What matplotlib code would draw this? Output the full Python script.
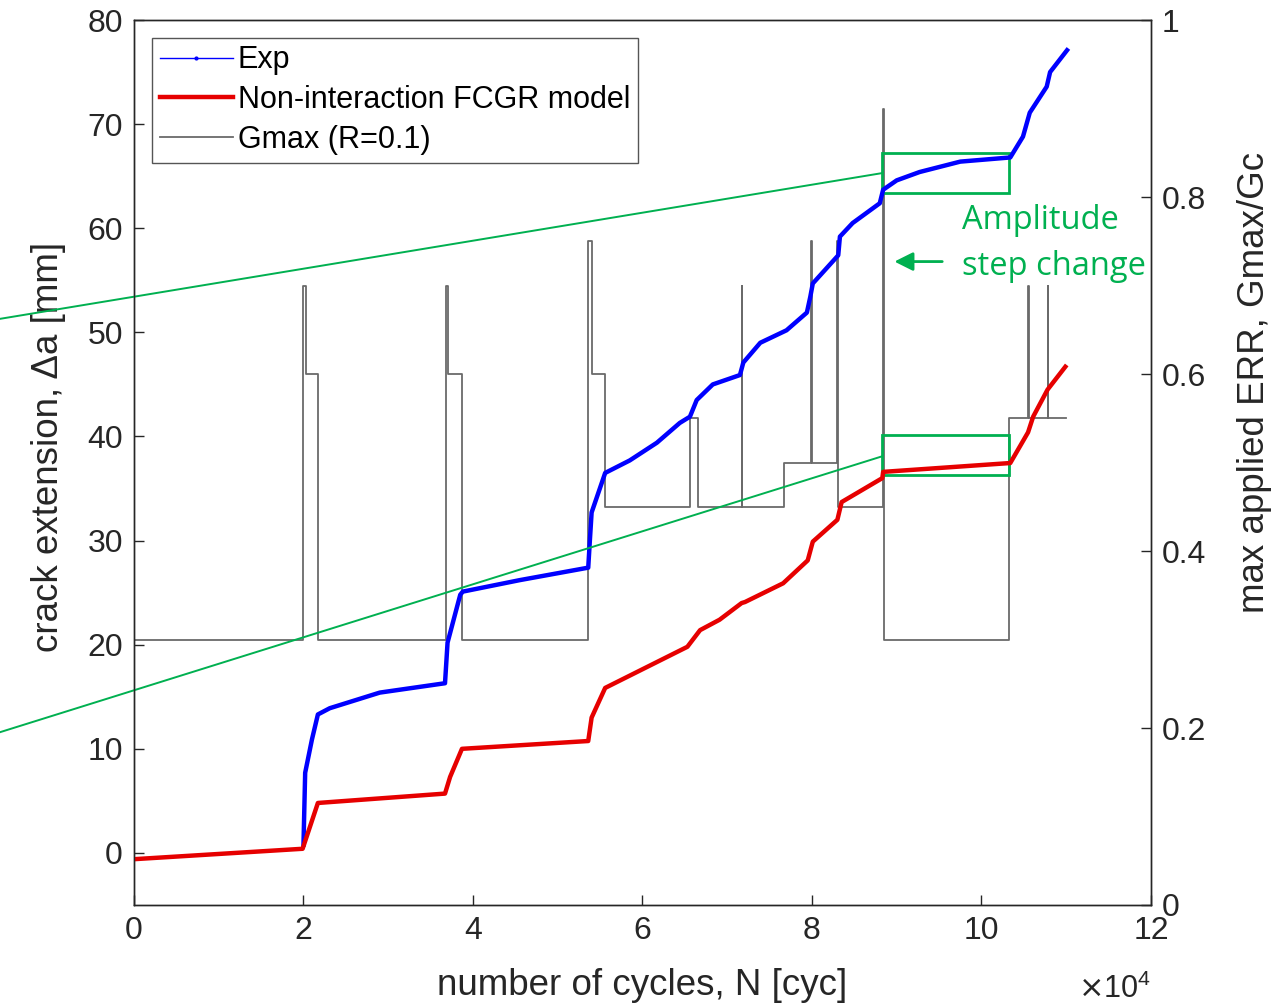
import matplotlib.pyplot as plt
from matplotlib.lines import Line2D
from matplotlib.patches import Rectangle
from matplotlib.ticker import FuncFormatter

plt.rcParams['font.family'] = ['Liberation Sans', 'DejaVu Sans']

# Exp crack extension (cycles, mm)
exp_N = [20000, 20200, 21000, 21700, 23100, 29000, 36700, 37000, 38500, 38800,
         45500, 53600, 53800, 54000, 55600, 58500, 61700, 64400, 65600, 66400,
         68300, 71500, 71900, 73900, 77000, 79400, 79800, 80100, 83100, 83300,
         84800, 88000, 88400, 90000, 92700, 97500, 103400, 104900, 105700,
         107700, 108100, 110100]
exp_a = [0.8, 7.7, 10.9, 13.3, 13.9, 15.4, 16.3, 20.2, 24.8, 25.1,
         26.2, 27.4, 30.1, 32.7, 36.5, 37.7, 39.4, 41.3, 41.9, 43.5,
         45.0, 45.9, 47.1, 49.0, 50.2, 51.9, 53.4, 54.7, 57.4, 59.2,
         60.5, 62.4, 63.7, 64.6, 65.4, 66.4, 66.8, 68.8, 71.1,
         73.6, 75.0, 77.1]

# Non-interaction FCGR model
model_N = [0, 19900, 21700, 36700, 37300, 38700, 53600, 54000, 55600, 65300,
           66800, 69100, 71700, 72100, 76600, 79500, 80100, 83000, 83500,
           88300, 88400, 103400, 105500, 106100, 107800, 109900]
model_a = [-0.6, 0.4, 4.8, 5.7, 7.3, 10.0, 10.75, 13.0, 15.85, 19.8,
           21.4, 22.4, 24.0, 24.1, 25.9, 28.1, 29.9, 32.0, 33.7,
           36.0, 36.6, 37.45, 40.4, 41.9, 44.5, 46.7]

# Gmax/Gc loading sequence (step changes)
g_N = [0, 20000, 20300, 21700, 36800, 37100, 38700, 53600, 54000, 55600,
       65600, 66600, 71700, 71800, 76700, 79900, 80000, 83000, 83100, 88400,
       88500, 103300, 105500, 105600, 107800, 107900, 110000]
g_v = [0.3, 0.7, 0.6, 0.3, 0.7, 0.6, 0.3, 0.75, 0.6, 0.45,
       0.55, 0.45, 0.7, 0.45, 0.5, 0.75, 0.5, 0.75, 0.45, 0.9,
       0.3, 0.55, 0.7, 0.55, 0.7, 0.55, 0.55]

green = '#00b050'
axcol = '#262626'

fig = plt.figure(figsize=(12.76, 10.06), dpi=100)
ax = fig.add_axes([0.105, 0.1004, 0.797, 0.8797])
ax2 = ax.twinx()
ax.set_zorder(ax2.get_zorder() + 1)
ax.patch.set_visible(False)

ax2.plot(g_N, g_v, drawstyle='steps-post', color='#6a6a6a', lw=1.3)
ax.plot(exp_N, exp_a, color='#0000ff', lw=3.2)
ax.plot(model_N, model_a, color='#e60000', lw=3.2)

ax.set_xlim(0, 120000)
ax.set_ylim(-5, 80)
ax2.set_ylim(0, 1)
ax.set_xticks(range(0, 120001, 20000))
ax.xaxis.set_major_formatter(FuncFormatter(lambda v, p: '%g' % (v / 1e4)))
ax.set_yticks(range(0, 81, 10))
ax2.set_yticks([0, 0.2, 0.4, 0.6, 0.8, 1])
ax2.set_yticklabels(['0', '0.2', '0.4', '0.6', '0.8', '1'])

for a in (ax, ax2):
    a.tick_params(direction='in', length=7, width=1, labelsize=23,
                  colors=axcol, pad=8)
    for s in a.spines.values():
        s.set_color(axcol)
        s.set_linewidth(1)
ax.tick_params(axis='y', right=False)
ax2.tick_params(axis='y', left=False)

ax.set_xlabel('number of cycles, N [cyc]', fontsize=26.5, color=axcol, labelpad=16)
ax.set_ylabel('crack extension, \u0394a [mm]', fontsize=26.5, color=axcol)
ax.yaxis.set_label_coords(-0.067, 0.5175)
ax2.set_ylabel('max applied ERR, Gmax/Gc', fontsize=26.5, color=axcol)
ax2.yaxis.set_label_coords(1.0845, 0.591)
ax.text(1.0, -0.078, r'$\times\mathregular{10^4}$', transform=ax.transAxes,
        ha='right', va='top', fontsize=22, color=axcol)

# legend
handles = [Line2D([], [], color='#0000ff', lw=1, marker='.', markersize=4),
           Line2D([], [], color='#e60000', lw=3.2),
           Line2D([], [], color='#6a6a6a', lw=1.3)]
leg = ax.legend(handles, ['Exp', 'Non-interaction FCGR model', 'Gmax (R=0.1)'],
                loc='upper left', bbox_to_anchor=(0.0177, 0.98), borderaxespad=0,
                fontsize=22, handlelength=2.4, handletextpad=0.15,
                labelspacing=0.32, borderpad=0.25, fancybox=False,
                framealpha=1, edgecolor='#555555')
leg.get_frame().set_linewidth(1)

# annotation boxes and lines
ax.add_patch(Rectangle((88300, 63.4), 15000, 3.8, fill=False, ec=green, lw=2))
ax.add_patch(Rectangle((88300, 36.3), 15000, 3.8, fill=False, ec=green, lw=2))
ax.plot([-15800, 88300], [51.3, 65.3], color=green, lw=1.4, clip_on=False)
ax.plot([-15800, 88300], [11.6, 38.1], color=green, lw=1.4, clip_on=False)
ax.annotate('', xy=(89400, 56.8), xytext=(95700, 56.8),
            arrowprops=dict(arrowstyle='-|>', color=green, lw=2,
                            mutation_scale=28))
ax.text(97700, 59.9, 'Amplitude', color=green, fontsize=23.5,
        family='Open Sans', ha='left', va='baseline')
ax.text(97700, 55.5, 'step change', color=green, fontsize=23.5,
        family='Open Sans', ha='left', va='baseline')

fig.savefig('out.png', dpi=100)
